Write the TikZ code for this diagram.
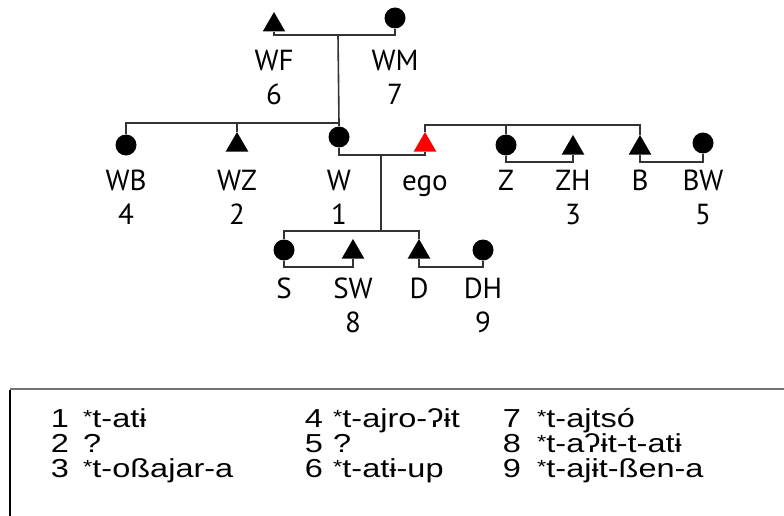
\documentclass[tikz,border=0pt]{standalone}
\usepackage{fontspec}
\setmainfont{PT Sans}
\newfontfamily\tabfont[FakeStretch=1.25]{Liberation Sans}
\usetikzlibrary{shapes.geometric}
\begin{document}
\begin{tikzpicture}[x=1pt,y=-1pt,
  kin/.style={draw=black!80,line width=1.6pt},
  male/.style={regular polygon,regular polygon sides=3,minimum size=26pt,inner sep=0pt,fill=black},
  female/.style={circle,minimum size=21pt,inner sep=0pt,fill=black},
  lbl/.style={anchor=base,inner sep=0pt,font=\fontsize{29}{32}\selectfont},
  num/.style={anchor=base,inner sep=0pt,font=\tabfont\fontsize{26}{26}\selectfont},
  term/.style={anchor=base west,inner sep=0pt,font=\tabfont\fontsize{26}{26}\selectfont}]
\newcommand{\rec}{\raisebox{3.5pt}{\fontsize{19}{19}\selectfont *}}
\useasboundingbox (0,0) rectangle (784,516);

% generation of the wife's parents
\node[male]   (WF) at (274,25) {};
\node[female] (WM) at (395,18) {};
% siblings of the wife
\node[female] (WB) at (126,145) {};
\node[male]   (WZ) at (237,145) {};
\node[female] (W)  at (339,137) {};
% ego and his siblings
\node[male,fill=red] (ego) at (425,145) {};
\node[female] (Z)  at (506,145) {};
\node[male]   (ZH) at (573,148) {};
\node[male]   (B)  at (640,148) {};
\node[female] (BW) at (703,143) {};
% children and their spouses
\node[female] (S)  at (284,250) {};
\node[male]   (SW) at (353,252) {};
\node[male]   (D)  at (419,252) {};
\node[female] (DH) at (483,250) {};

% junction points
\coordinate (mP) at (338,35);
\coordinate (sW) at (339,123);
\coordinate (mE) at (381,155);
\coordinate (sE) at (640,125);
\coordinate (mZ) at (540,162);
\coordinate (mB) at (670,162);
\coordinate (sC) at (381,231);
\coordinate (mS) at (320,267);
\coordinate (mD) at (450,267);

% marriages and descent lines
\draw[kin] (WF.south) |- (mP) -| (WM.south);
\draw[kin] (mP) -- (sW);
\draw[kin] (WB.north) |- (sW) -- (W.north);
\draw[kin] (WZ.north) -- (WZ.north |- sW);
\draw[kin] (W.south) |- (mE) -| (ego.south);
\draw[kin] (ego.north) |- (sE) -- (B.north);
\draw[kin] (Z.north) -- (Z.north |- sE);
\draw[kin] (Z.south) |- (mZ) -| (ZH.south);
\draw[kin] (B.south) |- (mB) -| (BW.south);
\draw[kin] (mE) -- (sC);
\draw[kin] (S.north) |- (sC) -| (D.north);
\draw[kin] (S.south) |- (mS) -| (SW.south);
\draw[kin] (D.south) |- (mD) -| (DH.south);

% labels
\node[lbl] (tWF) at (274,71) {WF};
\node[lbl] (nWF) at (274,105) {6};
\node[lbl] (tWM) at (395,71) {WM};
\node[lbl] (nWM) at (395,105) {7};
\node[lbl] (tWB) at (126,190) {WB};
\node[lbl] (nWB) at (126,224) {4};
\node[lbl] (tWZ) at (237,190) {WZ};
\node[lbl] (nWZ) at (237,224) {2};
\node[lbl] (tW)  at (339,190) {W};
\node[lbl] (nW)  at (339,224) {1};
\node[lbl] (tego) at (425,190) {ego};
\node[lbl] (tZ)  at (506,190) {Z};
\node[lbl] (tZH) at (573,190) {ZH};
\node[lbl] (nZH) at (573,224) {3};
\node[lbl] (tB)  at (640,190) {B};
\node[lbl] (tBW) at (703,190) {BW};
\node[lbl] (nBW) at (703,224) {5};
\node[lbl] (tS)  at (284,298) {S};
\node[lbl] (tSW) at (353,298) {SW};
\node[lbl] (nSW) at (353,332) {8};
\node[lbl] (tD)  at (419,298) {D};
\node[lbl] (tDH) at (483,298) {DH};
\node[lbl] (nDH) at (483,332) {9};

% table frame
\coordinate (fb) at (10,516);
\coordinate (ft) at (10,389);
\coordinate (fr) at (784,389);
\draw[black!55,line width=2.5pt] (ft) -- (fr);
\draw[black,line width=1.4pt] (fb) -- ([yshift=-1pt]ft);

% table of terms
\node[num] (k1) at (60,427) {1};
\node[term] (v1) at (83,427) {\rec t-atɨ};
\node[num] (k2) at (60,452) {2};
\node[term] (v2) at (83,452) {?};
\node[num] (k3) at (60,477) {3};
\node[term] (v3) at (83,477) {\rec t-oßajar-a};
\node[num] (k4) at (314,427) {4};
\node[term] (v4) at (333,427) {\rec t-ajro-ʔɨt};
\node[num] (k5) at (314,452) {5};
\node[term] (v5) at (333,452) {?};
\node[num] (k6) at (314,477) {6};
\node[term] (v6) at (333,477) {\rec t-atɨ-up};
\node[num] (k7) at (512,427) {7};
\node[term] (v7) at (537,427) {\rec t-ajtsó};
\node[num] (k8) at (512,452) {8};
\node[term] (v8) at (537,452) {\rec t-aʔɨt-t-atɨ};
\node[num] (k9) at (512,477) {9};
\node[term] (v9) at (537,477) {\rec t-ajɨt-ßen-a};
\end{tikzpicture}
\end{document}
